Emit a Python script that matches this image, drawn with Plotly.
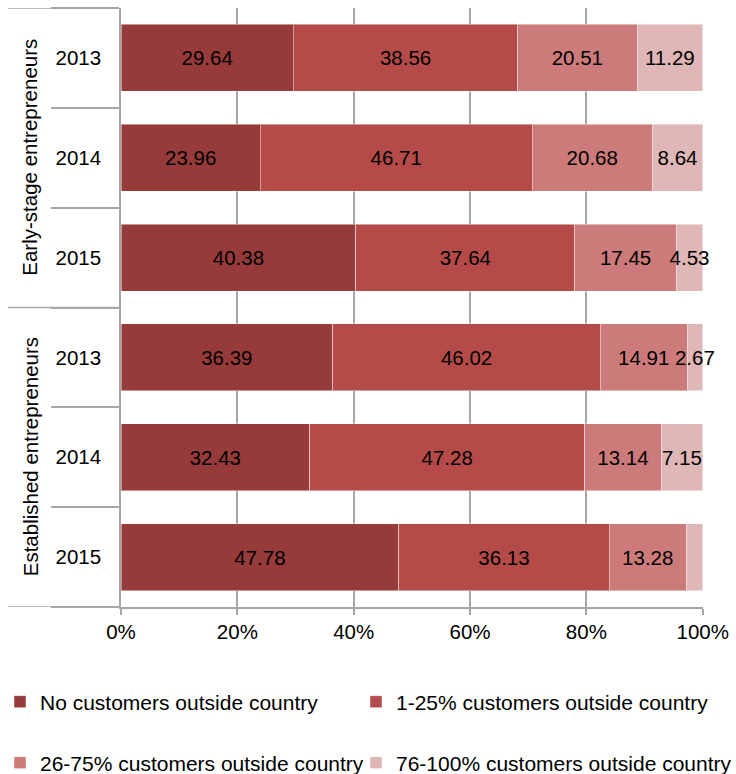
import plotly.graph_objects as go

groups = ["Early-stage entrepreneurs", "Established entrepreneurs"]
years = ["2013", "2014", "2015"]
series_names = [
    "No customers outside country",
    "1-25% customers outside country",
    "26-75% customers outside country",
    "76-100% customers outside country",
]
# rows: Early 2013, 2014, 2015, Established 2013, 2014, 2015
no_customers = [29.64, 23.96, 40.38, 36.39, 32.43, 47.78]
pct_1_25 = [38.56, 46.71, 37.64, 46.02, 47.28, 36.13]
pct_26_75 = [20.51, 20.68, 17.45, 14.91, 13.14, 13.28]
pct_76_100 = [11.29, 8.64, 4.53, 2.67, 7.15, 2.81]
labels_76_100 = ["11.29", "8.64", "4.53", "2.67", "7.15", ""]
x_ticks = [0, 20, 40, 60, 80, 100]

colors = ["#963B3A", "#B54B48", "#CC7B7A", "#DFB7B7"]
FONT = "Liberation Sans, Arial, sans-serif"
GRID = "#A6A6A6"

row_ids = [f"{g}|{y}" for g in groups for y in years]
row_years = [y for g in groups for y in years]

series = [no_customers, pct_1_25, pct_26_75, pct_76_100]
texts = [
    [f"{v:.2f}" for v in no_customers],
    [f"{v:.2f}" for v in pct_1_25],
    [f"{v:.2f}" for v in pct_26_75],
    labels_76_100,
]
legend_ids = ["legend", "legend2", "legend3", "legend4"]

fig = go.Figure()
for name, vals, txt, col, lg in zip(series_names, series, texts, colors, legend_ids):
    fig.add_trace(go.Bar(
        y=row_ids, x=vals, orientation="h", name=name,
        marker=dict(color=col, line=dict(color="rgba(255,255,255,0.45)", width=1)),
        text=txt, textposition="inside", insidetextanchor="middle",
        constraintext="none", textangle=0, cliponaxis=False,
        textfont=dict(family=FONT, size=20.5, color="#000000"),
        legend=lg, hoverinfo="x+y",
    ))

n = len(row_ids)


def legend_box(px_left, py_center):
    return dict(
        orientation="h", xref="container", yref="container",
        x=px_left / 736, y=1 - py_center / 774, xanchor="left", yanchor="middle",
        font=dict(family=FONT, size=21), bgcolor="rgba(0,0,0,0)",
    )


fig.update_layout(
    width=736, height=774,
    barmode="stack", bargap=0.33,
    plot_bgcolor="white", paper_bgcolor="white",
    margin=dict(l=121, r=33, t=8, b=167, autoexpand=False),
    font=dict(family=FONT, size=20.5, color="#000000"),
    xaxis=dict(
        range=[0, 100.05], tickvals=x_ticks, ticktext=[f"{v}%" for v in x_ticks],
        showgrid=True, gridcolor=GRID, gridwidth=1.5,
        showline=True, linecolor=GRID, linewidth=1.5,
        ticks="outside", ticklen=6, tickcolor=GRID, tickwidth=1.5,
        zeroline=False, fixedrange=True,
    ),
    yaxis=dict(
        type="category", categoryorder="array", categoryarray=row_ids,
        range=[n - 0.5, -0.5],
        tickvals=row_ids, ticktext=row_years,
        tickson="boundaries", ticks="outside", ticklen=68, tickcolor=GRID, tickwidth=1.5,
        ticklabelstandoff=14,
        showline=True, linecolor=GRID, linewidth=1.5,
        showgrid=False, zeroline=False, fixedrange=True,
    ),
    legend=legend_box(0, 702),
    legend2=legend_box(356, 702),
    legend3=legend_box(0, 763),
    legend4=legend_box(356, 763),
    showlegend=True,
)

# group separators on the category axis (extend to the left edge)
x_left = -(121 - 8) / 582
for yb in [-0.5, 2.5, n - 0.5]:
    fig.add_shape(type="line", xref="paper", yref="y", x0=x_left, x1=0, y0=yb, y1=yb,
                  line=dict(color=GRID, width=1.5), layer="above")

# group labels
for gi, g in enumerate(groups):
    fig.add_annotation(
        text=g, xref="paper", yref="y", x=(30 - 121) / 582, y=row_ids[gi * 3 + 1],
        textangle=-90, showarrow=False, font=dict(family=FONT, size=20.5, color="#000000"),
        xanchor="center", yanchor="middle",
    )

fig.write_html("out.html")
